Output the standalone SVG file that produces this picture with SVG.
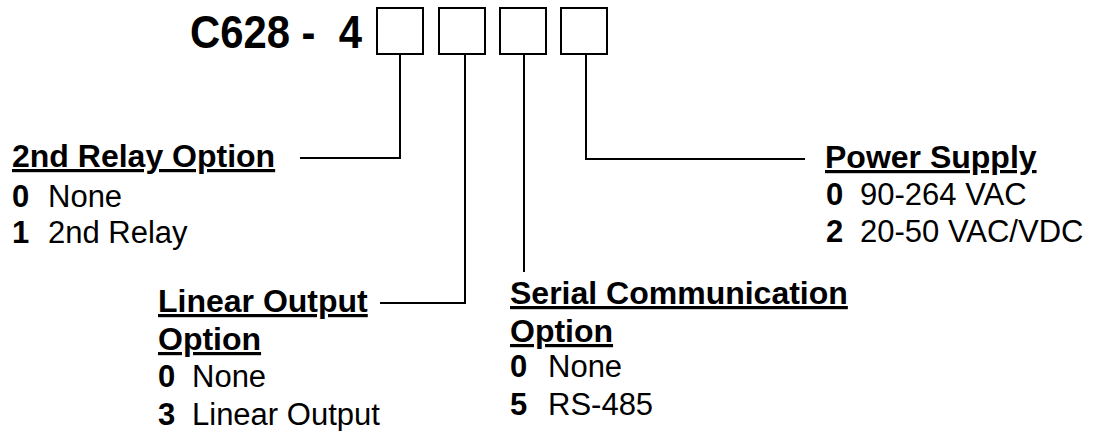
<svg xmlns="http://www.w3.org/2000/svg" width="1100" height="431" viewBox="0 0 1100 431">
<style>
text{font-family:"Liberation Sans",Arial,sans-serif;fill:#000}
.h{font-weight:bold;font-size:32px;text-decoration:underline}
.n{font-weight:bold;font-size:31px}
.t{font-size:31px}
.box{fill:#fff;stroke:#000;stroke-width:2}
.ln{fill:none;stroke:#000;stroke-width:2}
</style>
<rect width="1100" height="431" fill="#fff"/>
<g id="title">
<text x="190" y="48" font-weight="bold" font-size="47" textLength="172" lengthAdjust="spacingAndGlyphs" xml:space="preserve">C628 -  4</text>
<rect class="box" x="377" y="8" width="46" height="46"/>
<rect class="box" x="439" y="8" width="46" height="46"/>
<rect class="box" x="500" y="8" width="46" height="46"/>
<rect class="box" x="561" y="8" width="46" height="46"/>
</g>
<g id="connectors">
<polyline class="ln" points="400,54 400,158 300,158"/>
<polyline class="ln" points="465,54 465,303 380,303"/>
<polyline class="ln" points="524,54 524,272"/>
<polyline class="ln" points="586,54 586,159 805,159"/>
</g>
<g id="relay">
<text class="h" x="12" y="167">2nd Relay Option</text>
<text class="n" x="12" y="207">0</text><text class="t" x="48" y="207">None</text>
<text class="n" x="12" y="243">1</text><text class="t" x="48" y="243">2nd Relay</text>
</g>
<g id="linear">
<text class="h" x="158" y="312">Linear Output</text>
<text class="h" x="158" y="350">Option</text>
<text class="n" x="158" y="387">0</text><text class="t" x="192" y="387">None</text>
<text class="n" x="158" y="425">3</text><text class="t" x="192" y="425">Linear Output</text>
</g>
<g id="serial">
<text class="h" x="510" y="304">Serial Communication</text>
<text class="h" x="510" y="342">Option</text>
<text class="n" x="510" y="377">0</text><text class="t" x="548" y="377">None</text>
<text class="n" x="510" y="415">5</text><text class="t" x="548" y="415">RS-485</text>
</g>
<g id="power">
<text class="h" x="825" y="168">Power Supply</text>
<text class="n" x="826" y="205">0</text><text class="t" x="860" y="205">90-264 VAC</text>
<text class="n" x="826" y="242">2</text><text class="t" x="860" y="242">20-50 VAC/VDC</text>
</g>
</svg>
